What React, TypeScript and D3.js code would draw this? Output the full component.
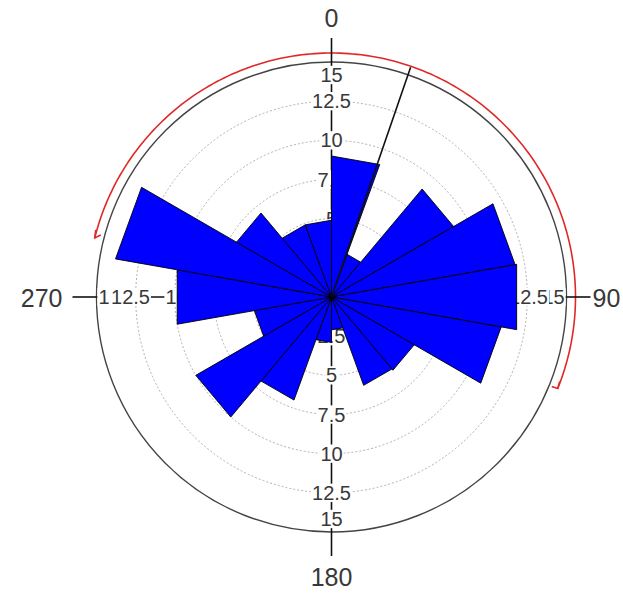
import React from 'react';
import * as d3 from 'd3';

// ---- data ----
const binStarts = [0, 20, 40, 60, 80, 100, 120, 140, 160, 180, 200, 220, 240, 260, 280, 300, 320, 340];
const binWidth = 20;
const counts = [9.0, 2.9, 9.0, 11.9, 12.0, 11.0, 6.1, 6.0, 2.1, 2.9, 7.0, 10.0, 5.0, 10.0, 14.0, 7.0, 4.9, 4.9];
const gridValues = [2.5, 5, 7.5, 10, 12.5];
const radialTickValues = [15, 12.5, 10, 7.5, 5, 2.5];
const radialTickLabels = ['15', '12.5', '10', '7.5', '5', '2.5'];
const angleTicks = [0, 90, 180, 270];
const angleLabels = ['0', '90', '180', '270'];
const meanDirection = 19;
const arcRange = [-76, 112];
const rMax = 15;

const W = 623, H = 593;
const cx = 331.5, cy = 297;
const R = 235;
const arcR = 244;

const rScale = d3.scaleLinear().domain([0, rMax]).range([0, R]);
const toRad = (deg: number) => (deg * Math.PI) / 180;
const pt = (deg: number, r: number): [number, number] => [cx + r * Math.sin(toRad(deg)), cy - r * Math.cos(toRad(deg))];

const FONT = "'Liberation Sans', Arial, Helvetica, sans-serif";
const textColor = '#383838';
const labelSize = 20;
const angleSize = 25;

const textWidth = (s: string, size: number) =>
  s.split('').reduce((w, c) => w + (c === '.' ? 0.278 : 0.556), 0) * size;

export default function App() {
  const radial = d3.lineRadial<[number, number]>().angle(d => toRad(d[0])).radius(d => rScale(d[1]));

  const bars = binStarts.map((a0, i) => {
    const a1 = a0 + binWidth;
    const d = radial([[a0, 0], [a0, counts[i]], [a1, counts[i]]]) + 'Z';
    return <path key={i} d={d} transform={`translate(${cx},${cy})`} fill="#0000ff" stroke="#000" strokeWidth={0.9} strokeLinejoin="round" />;
  });

  const arcPts: [number, number][] = d3.range(arcRange[0], arcRange[1] + 0.5, 1).map(a => [a, 0]);
  const arcLine = d3.lineRadial<[number, number]>().angle(d => toRad(d[0])).radius(arcR);
  const arcPath = arcLine(arcPts) || '';

  // label placement along the four axes (outermost label pulled inside the circle)
  const labelOffset = (v: number, ang: number) => {
    if (v === rMax) return 222;
    if (ang === 270 && v === 12.5) return 201;
    if (ang === 90 && v === 12.5) return 197;
    if ((ang === 90 || ang === 270) && v === 10) return 155;
    return rScale(v);
  };
  const capH = labelSize * 0.716;

  const radialLabels: React.ReactNode[] = [];
  angleTicks.forEach(ang => {
    radialTickValues.forEach((v, j) => {
      const s = radialTickLabels[j];
      const [x, y] = pt(ang, labelOffset(v, ang));
      const w = textWidth(s, labelSize);
      radialLabels.push(
        <g key={`${ang}-${j}`}>
          <rect x={x - w / 2 - 1} y={y - capH / 2 - 2} width={w + 2} height={capH + 4} fill="#fff" />
          <text x={x} y={y + capH / 2} textAnchor="middle" fontSize={labelSize} fontFamily={FONT} fill={textColor}>{s}</text>
        </g>
      );
    });
  });

  const meanEnd = pt(meanDirection, 243);
  const leftEnd = pt(arcRange[0], arcR);
  const rightEnd = pt(arcRange[1], arcR);

  const angCap = angleSize * 0.716;
  const angleLabelEls = angleTicks.map((ang, i) => {
    const s = angleLabels[i];
    let x = cx, y = cy, anchor: 'middle' | 'start' | 'end' = 'middle';
    if (ang === 0) { y = cy - 270; }
    else if (ang === 180) { y = cy + 271 + angCap; }
    else if (ang === 90) { x = cx + 261; y = cy + angCap / 2 + 1; anchor = 'start'; }
    else { x = cx - 269; y = cy + angCap / 2 + 1; anchor = 'end'; }
    return <text key={s} x={x} y={y} textAnchor={anchor} fontSize={angleSize} fontFamily={FONT} fill={textColor}>{s}</text>;
  });

  return (
    <svg width={W} height={H} style={{ position: 'absolute', left: 0, top: 0, background: '#fff' }}>
      <rect width={W} height={H} fill="#fff" />
      {gridValues.map(v => (
        <circle key={v} cx={cx} cy={cy} r={rScale(v)} fill="none" stroke="#a8a8a8" strokeWidth={0.9} strokeDasharray="2,2" />
      ))}
      <circle cx={cx} cy={cy} r={R} fill="none" stroke="#444" strokeWidth={1.4} />
      {angleTicks.map(ang => {
        const [x, y] = pt(ang, R);
        return <line key={ang} x1={cx} y1={cy} x2={x} y2={y} stroke="#111" strokeWidth={1.6} />;
      })}
      {radialLabels}
      {bars}
      <line x1={cx} y1={cy} x2={meanEnd[0]} y2={meanEnd[1]} stroke="#111" strokeWidth={1.6} />
      <path d={arcPath} transform={`translate(${cx},${cy})`} fill="none" stroke="#e02828" strokeWidth={1.6} />
      <path d={`M${leftEnd[0] + 6},${leftEnd[1] - 3} L${leftEnd[0]},${leftEnd[1]} L${leftEnd[0] + 1},${leftEnd[1] - 8}`} fill="none" stroke="#e02828" strokeWidth={1.6} />
      <path d={`M${rightEnd[0] - 6},${rightEnd[1] - 2} L${rightEnd[0]},${rightEnd[1]} L${rightEnd[0] + 2},${rightEnd[1] - 7}`} fill="none" stroke="#e02828" strokeWidth={1.6} />
      {angleTicks.map(ang => {
        const [x1, y1] = pt(ang, R);
        const [x2, y2] = pt(ang, R + 24);
        return <line key={`t${ang}`} x1={x1} y1={y1} x2={x2} y2={y2} stroke="#111" strokeWidth={1.6} />;
      })}
      {angleLabelEls}
    </svg>
  );
}
